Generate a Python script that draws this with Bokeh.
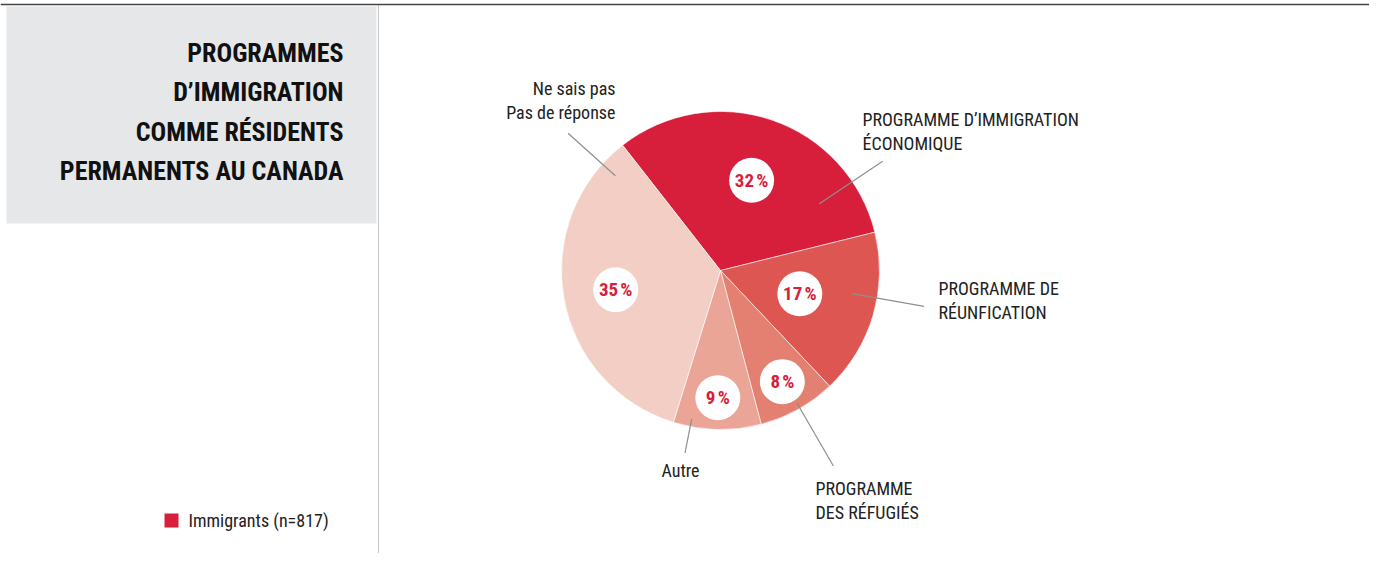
import math
from bokeh.plotting import figure
from bokeh.models import Range1d, ColumnDataSource
from bokeh.core.properties import value
from bokeh.embed import file_html
from bokeh.resources import INLINE

# ---------------- data ----------------
categories = ["Programme d'immigration économique", "Programme de réunification",
              "Programme des réfugiés", "Autre", "Ne sais pas / Pas de réponse"]
values = [32, 17, 8, 9, 35]
pct_labels = ["32\u202f%", "17\u202f%", "8\u202f%", "9\u202f%", "35\u202f%"]
slice_colors = ["#D71E3A", "#DD5652", "#E38071", "#EAA597", "#F3CEC5"]
outer_labels = [["PROGRAMME D\u2019IMMIGRATION", "ÉCONOMIQUE"],
                ["PROGRAMME DE", "RÉUNFICATION"],
                ["PROGRAMME", "DES RÉFUGIÉS"],
                ["Autre"],
                ["Ne sais pas", "Pas de réponse"]]
title_lines = ["PROGRAMMES", "D\u2019IMMIGRATION", "COMME RÉSIDENTS", "PERMANENTS AU CANADA"]
legend_label = "Immigrants (n=817)"

# ---------------- layout ----------------
W, H = 1369, 553
def fx(px): return px
def fy(py): return H - py

FONT = value("Roboto Condensed, DejaVu Sans Condensed, Liberation Sans Narrow, Roboto")

CX, CY, R = fx(720), fy(270), 159
START = -38.0  # clockwise degrees from 12 o'clock
label_r = [0.60, 0.52, 0.80, 0.80, 0.67]
leader_ang = [56, 100, 150, 191, 312]
leader_r = [(0.75, 1.23), (0.84, 1.30), (0.96, 1.42), (0.95, 1.17), (0.89, 1.29)]
outer_pos = [(862, 119, "left"), (938, 288, "left"), (815, 488, "left"),
             (680, 470, "center"), (615, 88, "right")]
LINE_GAP = 24

def clock_to_math(deg):
    return math.radians(90 - deg)

p = figure(width=W, height=H, output_backend="svg", toolbar_location=None,
           x_range=Range1d(0, W), y_range=Range1d(0, H), min_border=0)
p.axis.visible = False
p.grid.visible = False
p.outline_line_color = None
p.background_fill_color = "white"
p.border_fill_color = "white"

# left grey panel
p.quad(left=fx(6), right=fx(376), top=fy(6), bottom=fy(223),
       fill_color="#E6E7E9", line_color=None)
# top rule
p.segment(x0=[fx(0)], y0=[fy(4)], x1=[fx(1385)], y1=[fy(4)], line_color="#444444", line_width=1.5)
# dotted divider
p.segment(x0=[fx(378)], y0=[fy(5)], x1=[fx(378)], y1=[fy(569)], line_color="#8a8a8a",
          line_width=1, line_dash="1 1")

# title
for i, t in enumerate(title_lines):
    p.text(x=[fx(343)], y=[fy(52 + i * 39.5)], text=[t], text_align="right",
           text_baseline="middle", text_font=FONT, text_font_style="bold",
           text_font_size="26px", text_color="#111111")

# legend
p.quad(left=fx(164), right=fx(178), top=fy(513), bottom=fy(527),
       fill_color=slice_colors[0], line_color=None)
p.text(x=[fx(188)], y=[fy(520)], text=[legend_label], text_align="left",
       text_baseline="middle", text_font=FONT, text_font_size="18px",
       text_color="#222222")

# pie
total = sum(values)
starts, ends, mids = [], [], []
acc = START
for v in values:
    a0 = acc
    a1 = acc + v / total * 360
    starts.append(clock_to_math(a0))
    ends.append(clock_to_math(a1))
    mids.append((a0 + a1) / 2)
    acc = a1

src = ColumnDataSource(dict(start=starts, end=ends, color=slice_colors, cat=categories, val=values))
p.wedge(x=CX, y=CY, radius=R, start_angle="start", end_angle="end", direction="clock",
        fill_color="color", line_color="white", line_width=0.8, line_alpha=0.7, source=src)

# leader lines
for ang, (r0, r1) in zip(leader_ang, leader_r):
    a = clock_to_math(ang)
    p.segment(x0=[CX + r0 * R * math.cos(a)], y0=[CY + r0 * R * math.sin(a)],
              x1=[CX + r1 * R * math.cos(a)], y1=[CY + r1 * R * math.sin(a)],
              line_color="#8f8f8f", line_width=1.2)

# percentage bubbles
lx = [CX + lr * R * math.cos(clock_to_math(m)) for m, lr in zip(mids, label_r)]
ly = [CY + lr * R * math.sin(clock_to_math(m)) for m, lr in zip(mids, label_r)]
p.scatter(x=lx, y=ly, size=45, marker="circle", fill_color="white", line_color=None)
p.text(x=lx, y=ly, text=pct_labels, text_align="center", text_baseline="middle",
       text_font=FONT, text_font_style="bold", text_font_size="19px",
       text_color=slice_colors[0])

# outer labels
for lines, (px, py, al) in zip(outer_labels, outer_pos):
    for j, t in enumerate(lines):
        p.text(x=[fx(px)], y=[fy(py + j * LINE_GAP)], text=[t], text_align=al,
               text_baseline="middle", text_font=FONT, text_font_size="18px",
               text_color="#222222")

open("out.html", "w").write(file_html(p, INLINE))
